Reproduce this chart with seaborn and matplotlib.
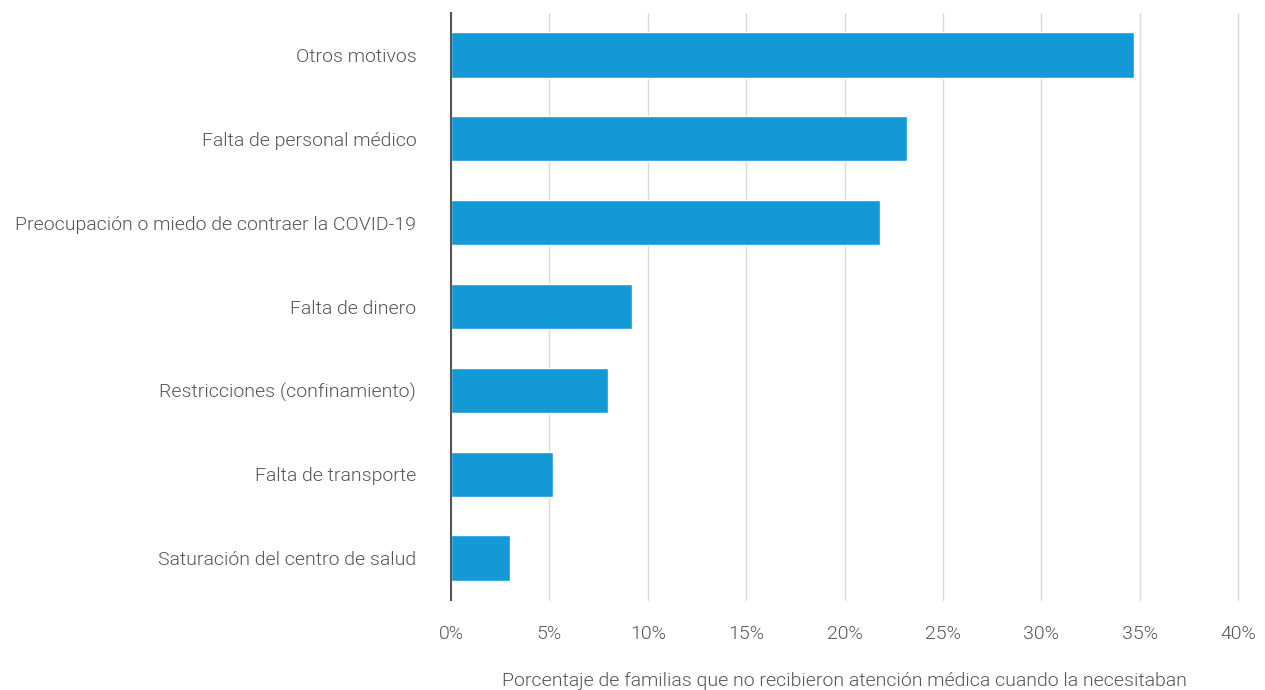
import matplotlib
matplotlib.use("Agg")
import matplotlib.pyplot as plt
import seaborn as sns
import pandas as pd
from matplotlib.ticker import FuncFormatter

categories = [
    "Otros motivos",
    "Falta de personal médico",
    "Preocupación o miedo de contraer la COVID-19",
    "Falta de dinero",
    "Restricciones (confinamiento)",
    "Falta de transporte",
    "Saturación del centro de salud",
]
values = [34.7, 23.2, 21.8, 9.2, 8.0, 5.2, 3.0]
xlabel = "Porcentaje de familias que no recibieron atención médica cuando la necesitaban"

df = pd.DataFrame({"cat": categories, "val": values})

sns.set_theme(style="white")
plt.rcParams["font.family"] = ["Roboto", "DejaVu Sans"]
plt.rcParams["font.weight"] = 300
plt.rcParams["axes.labelweight"] = 300

fig = plt.figure(figsize=(12.65, 6.9), dpi=100)
ax = fig.add_axes([451/1265, 1-600/690, (1238-451)/1265, (600-13)/690])

sns.barplot(data=df, x="val", y="cat", color="#1399d6", width=0.54,
            saturation=1, ax=ax, zorder=3)

ax.set_xlim(0, 40)
ax.set_ylim(6.5, -0.5)
ax.set_xticks(range(0, 41, 5))
ax.xaxis.set_major_formatter(FuncFormatter(lambda v, p: f"{int(v)}%"))
ax.grid(axis="x", color="#d9d9d9", linewidth=1, zorder=0)
for gl in ax.get_xgridlines():
    gl.set_clip_on(False)
ax.grid(axis="y", visible=False)
for s in ["top", "right", "bottom"]:
    ax.spines[s].set_visible(False)
ax.spines["left"].set_color("#555555")
ax.spines["left"].set_linewidth(1.5)
ax.spines["left"].set_zorder(5)
ax.tick_params(axis="x", length=0, pad=18, labelsize=14, labelcolor="#555555")
ax.tick_params(axis="y", length=0, pad=25, labelsize=14, labelcolor="#555555")
ax.set_ylabel("")
ax.set_xlabel(xlabel, fontsize=14, color="#555555", labelpad=21, fontweight=300)

fig.savefig("out.png", dpi=100)
